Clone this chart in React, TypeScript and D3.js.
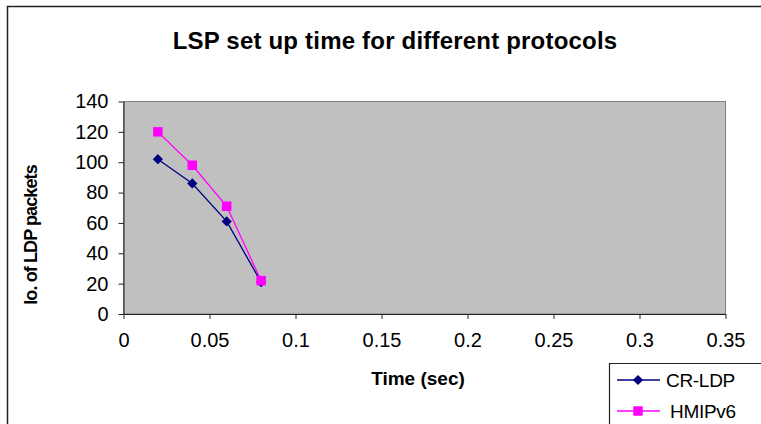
import React, { useEffect, useRef } from 'react';
import * as d3 from 'd3';

const times = [0.02, 0.04, 0.06, 0.08];
const crLdp = [102, 86, 61, 21];
const hmipv6 = [120, 98, 71, 22];
const xTicks = [0, 0.05, 0.1, 0.15, 0.2, 0.25, 0.3, 0.35];
const yTicks = [0, 20, 40, 60, 80, 100, 120, 140];

function App() {
  const ref = useRef<SVGSVGElement | null>(null);

  useEffect(() => {
    const width = 761;
    const height = 424;
    const font = 'Liberation Sans, Arial, sans-serif';

    const svg = d3.select(ref.current);
    svg.selectAll('*').remove();
    svg.attr('width', width).attr('height', height);

    svg.append('rect').attr('width', width).attr('height', height).attr('fill', '#fff');

    // chart frame (only top and left visible)
    svg.append('path')
      .attr('d', `M7.5,${height} V6.5 H${width}`)
      .attr('fill', 'none')
      .attr('stroke', '#222')
      .attr('stroke-width', 1.5);

    svg.append('text')
      .attr('x', 395)
      .attr('y', 49)
      .attr('text-anchor', 'middle')
      .attr('font-family', font)
      .attr('font-weight', 'bold')
      .attr('font-size', 24)
      .attr('letter-spacing', 0.2)
      .text('LSP set up time for different protocols');

    const x = d3.scaleLinear().domain([0, 0.35]).range([123.5, 725.5]);
    const y = d3.scaleLinear().domain([0, 140]).range([314, 101.5]);

    svg.append('rect')
      .attr('x', x(0))
      .attr('y', y(140))
      .attr('width', x(0.35) - x(0))
      .attr('height', y(0) - y(140))
      .attr('fill', '#c0c0c0')
      .attr('stroke', '#808080')
      .attr('stroke-width', 1);

    const xAxis = svg.append('g')
      .attr('transform', `translate(0,${y(0)})`)
      .call(d3.axisBottom(x).tickValues(xTicks).tickSize(5).tickSizeOuter(0).tickFormat(d => String(d)));
    const yAxis = svg.append('g')
      .attr('transform', `translate(${x(0)},0)`)
      .call(d3.axisLeft(y).tickValues(yTicks).tickSize(5).tickSizeOuter(0));

    [xAxis, yAxis].forEach(g => {
      g.select('.domain').attr('stroke', '#222');
      g.selectAll('.tick line').attr('stroke', '#222');
      g.selectAll('.tick text')
        .attr('font-family', font)
        .attr('font-size', 20)
        .attr('fill', '#000');
    });
    xAxis.selectAll('.tick text').attr('dy', '1.25em');
    yAxis.selectAll('.tick text').attr('x', -15);

    svg.append('text')
      .attr('x', 418)
      .attr('y', 385)
      .attr('text-anchor', 'middle')
      .attr('font-family', font)
      .attr('font-weight', 'bold')
      .attr('font-size', 19)
      .text('Time (sec)');

    svg.append('text')
      .attr('transform', 'translate(37,235) rotate(-90)')
      .attr('text-anchor', 'middle')
      .attr('font-family', font)
      .attr('font-weight', 'bold')
      .attr('font-size', 18)
      .attr('letter-spacing', -0.9)
      .text('lo. of LDP packets');

    const series = [
      { name: 'CR-LDP', values: crLdp, color: '#000080', size: 52, rotate: 45 },
      { name: 'HMIPv6', values: hmipv6, color: '#ff00ff', size: 90, rotate: 0 },
    ];

    const line = d3.line<number>()
      .x((_, i) => x(times[i]))
      .y(d => y(d));

    series.forEach(s => {
      svg.append('path')
        .datum(s.values)
        .attr('d', line)
        .attr('fill', 'none')
        .attr('stroke', s.color)
        .attr('stroke-width', 1.3);
      svg.selectAll(null)
        .data(s.values)
        .enter()
        .append('path')
        .attr('transform', (d, i) => `translate(${x(times[i])},${y(d)}) rotate(${s.rotate})`)
        .attr('d', d3.symbol().type(d3.symbolSquare).size(s.size)())
        .attr('fill', s.color);
    });

    // legend
    const legend = svg.append('g');
    legend.append('path')
      .attr('d', `M609.5,${height} V363.5 H${width}`)
      .attr('fill', 'none')
      .attr('stroke', '#222')
      .attr('stroke-width', 1.2);
    series.forEach((s, i) => {
      const ly = 380 + i * 31;
      legend.append('line')
        .attr('x1', 617).attr('x2', 660)
        .attr('y1', ly).attr('y2', ly)
        .attr('stroke', s.color)
        .attr('stroke-width', 1.3);
      legend.append('path')
        .attr('transform', `translate(638,${ly}) rotate(${s.rotate})`)
        .attr('d', d3.symbol().type(d3.symbolSquare).size(s.size)())
        .attr('fill', s.color);
      legend.append('text')
        .attr('x', i === 0 ? 666 : 670)
        .attr('y', ly + 7)
        .attr('font-family', font)
        .attr('font-size', 19)
        .attr('letter-spacing', -0.3)
        .text(s.name);
    });
  }, []);

  return <svg ref={ref} style={{ position: 'absolute', left: 0, top: 0 }} />;
}

export default App;
